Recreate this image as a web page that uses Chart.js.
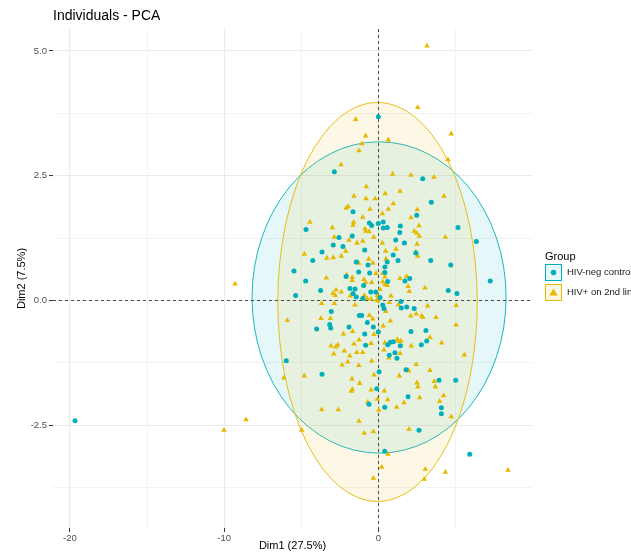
<!DOCTYPE html>
<html><head><meta charset="utf-8">
<script src="https://cdn.jsdelivr.net/npm/chart.js@4.4.0/dist/chart.umd.min.js"></script>
<style>html,body{margin:0;padding:0;background:#fff;}#wrap{position:relative;width:631px;height:556px;}</style>
</head><body><div id="wrap"><canvas id="c" width="631" height="556"></canvas></div>
<script>
const chartTitle = "Individuals - PCA";
const xTitle = "Dim1 (27.5%)";
const yTitle = "Dim2 (7.5%)";
const legendTitle = "Group";
const groups = ["HIV-neg controls", "HIV+ on 2nd line"];
const colors = ["#00AFBB", "#E7B800"];
const fills = ["rgba(0,175,187,0.1)", "rgba(231,184,0,0.1)"];

// HIV-neg controls
const negX = [0.00,-2.85,-1.64,-0.58,-0.43,0.00,-4.69,2.88,3.44,2.49,0.32,1.43,0.58,0.32,5.17,
-2.55,-1.69,-2.92,-2.29,-0.88,-3.65,-4.25,-1.43,-0.67,-5.47,-1.27,-0.56,-2.09,-0.95,-4.71,-3.74,-1.84,-1.51,-1.64,-0.49,-0.17,-1.43,-1.01,-5.36,-3.05,-1.23,-1.08,-0.71,-0.32,-3.15,-3.09,-4.00,-1.90,-0.88,0.00,-0.82,-5.97,
1.39,1.13,1.69,2.44,0.97,0.58,1.28,3.40,4.70,6.36,0.43,0.43,0.61,2.04,1.73,7.26,4.54,5.10,0.11,1.47,0.29,0.37,1.49,1.84,2.33,2.12,3.09,3.14,2.79,0.97,0.78,0.61,1.43,1.08,0.71,1.21,
-3.65,-0.60,-0.10,0.05,
1.80,3.94,5.02,1.93,0.42,4.09,4.09,2.64,0.42,5.93,-19.67];
const negY = [3.68,2.58,1.78,1.55,1.50,1.54,1.42,2.44,1.97,1.71,1.57,1.49,1.46,1.45,1.46,
1.26,1.29,1.11,1.08,1.01,0.97,0.80,0.77,0.71,0.59,0.57,0.55,0.48,0.30,0.39,0.20,0.24,0.23,0.14,0.17,0.17,0.07,0.04,0.10,-0.22,-0.30,-0.30,-0.44,-0.53,-0.48,-0.55,-0.57,-0.53,-0.67,-0.63,-0.90,-1.21,
1.36,1.21,1.15,0.95,0.91,0.77,0.80,0.80,0.71,1.18,0.67,0.56,0.38,0.44,0.39,0.39,0.20,0.14,0.06,-0.02,-0.09,-0.16,-0.15,-0.13,-0.16,-0.62,-0.60,-0.81,-0.89,-0.83,-0.84,-0.89,-0.91,-1.05,-1.10,-1.16,
-1.48,-2.08,-1.77,-1.43,
-1.39,-1.60,-1.60,-1.93,-2.14,-2.15,-2.27,-2.60,-3.02,-3.08,-2.41];

// HIV+ on 2nd line
const posX = [-1.47,-0.82,-1.06,-1.25,-2.42,-0.78,-1.58,-0.80,-0.21,-1.95,-2.09,-0.54,-1.01,-4.43,-1.60,-1.64,-2.98,-0.86,
2.56,4.73,0.65,4.52,0.93,2.12,3.61,0.45,1.41,4.26,0.97,0.65,2.53,0.26,2.12,2.64,3.16,
-2.85,-1.90,-1.01,-1.38,-0.82,-0.60,-0.30,-2.11,-4.80,-3.33,-2.92,-2.40,-1.27,-0.62,-0.36,-3.37,-2.05,-1.69,-1.69,-0.93,-0.82,-0.43,-0.15,-2.74,-2.40,-2.94,-2.79,-1.82,-0.91,-0.73,-0.47,-0.06,-0.08,-0.04,-3.67,-2.85,-1.51,-5.90,-3.72,-3.11,-0.58,-0.36,-2.27,-1.66,-0.28,-1.25,-0.47,-3.07,-2.76,-2.63,-1.58,-1.01,-2.20,-2.89,-1.85,-1.40,-1.98,-0.43,
2.33,2.49,2.66,4.35,0.26,2.51,1.15,0.48,2.43,2.56,0.50,0.29,0.43,1.41,1.84,0.29,0.43,0.58,1.93,2.01,3.03,0.11,0.82,0.71,1.30,3.20,5.06,0.48,2.10,2.46,2.81,2.90,3.74,0.78,0.32,5.04,3.35,4.11,0.43,1.23,1.32,1.47,2.14,0.37,1.41,5.58,0.69,2.46,
-6.12,-4.80,-2.35,-1.27,-1.71,-1.21,-1.69,-1.75,-0.47,-0.28,-0.69,-3.67,-2.59,-1.25,-0.91,-0.32,-4.97,-0.32,
1.97,3.35,1.36,2.51,2.57,3.63,3.70,0.39,4.24,0.61,2.68,1.67,1.19,3.98,4.73,1.99,0.63,0.22,3.05,4.35,2.98,
-9.29,-10.01,-8.58,8.41,-0.06,0.03];
const posY = [3.63,3.30,3.14,3.00,2.72,2.28,2.09,2.04,2.04,1.88,1.85,1.83,1.67,1.57,1.57,1.51,1.46,1.44,
3.87,3.34,3.22,2.82,2.53,2.51,2.47,2.14,2.19,2.09,1.94,1.83,1.82,1.74,1.66,1.50,5.10,
1.27,1.21,1.19,1.15,1.39,1.38,1.27,0.99,0.93,0.85,0.86,0.89,0.75,0.83,0.75,0.45,0.51,0.46,0.40,0.42,0.36,0.36,0.54,0.21,0.17,0.14,0.10,0.09,0.10,0.04,0.03,0.10,0.02,-0.01,-0.06,-0.06,-0.09,-0.40,-0.36,-0.36,-0.30,-0.37,-0.67,-0.62,-0.68,-0.79,-0.86,-0.91,-0.93,-0.89,-0.87,-1.04,-1.01,-1.07,-1.11,-1.04,-1.23,-1.21,
1.39,1.35,1.29,1.27,1.15,1.13,1.03,0.99,0.97,0.89,0.83,0.54,0.47,0.44,0.48,0.37,0.32,0.30,0.28,0.18,0.25,0.22,0.09,-0.04,-0.09,-0.11,-0.10,-0.22,-0.31,-0.27,-0.31,-0.34,-0.34,-0.41,-0.51,-0.49,-0.74,-0.85,-0.85,-0.78,-0.82,-0.81,-0.91,-0.99,-1.06,-1.09,-1.15,-1.28,
-1.55,-1.51,-1.29,-1.30,-1.57,-1.66,-1.78,-1.82,-1.79,-1.49,-2.04,-2.19,-2.19,-2.42,-2.66,-2.63,-2.60,-3.56,
-1.41,-1.40,-1.51,-1.65,-1.73,-1.62,-1.73,-1.81,-1.91,-1.99,-1.95,-2.05,-2.14,-2.02,-2.33,-2.58,-3.08,-3.34,-3.38,-3.44,-3.58,
0.33,-2.60,-2.39,-3.40,-1.98,-2.20];

// concentration ellipses per group: centre and semi-axes (data units)
const ellCx = [0.05, -0.05];
const ellCy = [0.06, -0.03];
const ellRx = [8.24, 6.47];
const ellRy = [3.12, 4.00];

const xTicks = [-20,-15,-10,-5,0,5];
const xLabels = [-20,-10,0];
const yTicks = [-3.75,-2.5,-1.25,0,1.25,2.5,3.75,5];
const yLabels = [-2.5,0,2.5,5];
const xRange = [-21.1, 9.97];
const yRange = [-4.56, 5.44];

const FONT = "'Liberation Sans', Arial, sans-serif";

const extras = {
  id: 'pcaExtras',
  beforeDatasetsDraw(chart) {
    const {ctx, chartArea: a, scales: {x, y}} = chart;
    ctx.save();
    ctx.beginPath(); ctx.rect(a.left, a.top, a.right - a.left, a.bottom - a.top); ctx.clip();
    for (let i = 0; i < groups.length; i++) {
      const cx = x.getPixelForValue(ellCx[i]), cy = y.getPixelForValue(ellCy[i]);
      const rx = Math.abs(x.getPixelForValue(ellCx[i] + ellRx[i]) - cx);
      const ry = Math.abs(y.getPixelForValue(ellCy[i] + ellRy[i]) - cy);
      ctx.beginPath(); ctx.ellipse(cx, cy, rx, ry, 0, 0, Math.PI * 2);
      ctx.fillStyle = fills[i]; ctx.fill();
      ctx.strokeStyle = colors[i]; ctx.lineWidth = 0.9; ctx.stroke();
    }
    ctx.restore();
    ctx.save();
    ctx.setLineDash([3, 3]); ctx.strokeStyle = '#4a4a4a'; ctx.lineWidth = 1;
    const x0 = Math.round(x.getPixelForValue(0)) + 0.5;
    const y0 = Math.round(y.getPixelForValue(0)) + 0.5;
    ctx.beginPath(); ctx.moveTo(x0, a.top); ctx.lineTo(x0, a.bottom); ctx.stroke();
    ctx.beginPath(); ctx.moveTo(a.left, y0); ctx.lineTo(a.right, y0); ctx.stroke();
    ctx.restore();
  },
  afterDraw(chart) {
    const {ctx, chartArea: a} = chart;
    ctx.save();
    ctx.fillStyle = '#000';
    ctx.font = "14px " + FONT;
    ctx.textBaseline = 'middle'; ctx.textAlign = 'left';
    ctx.fillText(chartTitle, a.left, 16);
    // legend
    const lx = 545;
    ctx.font = "11px " + FONT;
    ctx.fillText(legendTitle, lx, 257);
    const keyTop = [264, 284];
    for (let i = 0; i < groups.length; i++) {
      const ky = keyTop[i];
      ctx.fillStyle = '#fff'; ctx.fillRect(lx, ky, 17, 17);
      ctx.fillStyle = fills[i]; ctx.fillRect(lx, ky, 17, 17);
      ctx.strokeStyle = colors[i]; ctx.lineWidth = 1;
      ctx.strokeRect(lx + 0.5, ky + 0.5, 16, 16);
      ctx.fillStyle = colors[i];
      const cx = lx + 8.5, cy = ky + 8.5;
      ctx.beginPath();
      if (i === 0) { ctx.arc(cx, cy, 2.8, 0, Math.PI * 2); }
      else { ctx.moveTo(cx, cy - 4); ctx.lineTo(cx + 4.2, cy + 3); ctx.lineTo(cx - 4.2, cy + 3); ctx.closePath(); }
      ctx.fill();
      ctx.fillStyle = '#1a1a1a';
      ctx.font = "9.5px " + FONT;
      ctx.fillText(groups[i], lx + 22, cy);
    }
    ctx.restore();
  }
};

const isMajor = (vals, v) => vals.some(m => Math.abs(m - v) < 1e-9);

new Chart(document.getElementById('c'), {
  type: 'scatter',
  data: {
    datasets: [
      { label: groups[0], data: negX.map((v, i) => ({x: v, y: negY[i]})), pointStyle: 'circle',
        pointRadius: 2.5, pointHoverRadius: 2.5, backgroundColor: colors[0], borderWidth: 0 },
      { label: groups[1], data: posX.map((v, i) => ({x: v, y: posY[i]})), pointStyle: 'triangle',
        pointRadius: 3.2, pointHoverRadius: 3.2, backgroundColor: colors[1], borderWidth: 0 }
    ]
  },
  options: {
    responsive: false, animation: false, devicePixelRatio: 1,
    layout: { padding: { top: 29, right: 99, left: 0, bottom: 0 } },
    plugins: { legend: { display: false }, tooltip: { enabled: false } },
    scales: {
      x: {
        type: 'linear', min: xRange[0], max: xRange[1],
        afterBuildTicks: s => { s.ticks = xTicks.map(v => ({value: v})); },
        afterFit: s => { s.height = 28; },
        border: { display: false },
        grid: {
          color: '#ebebeb',
          lineWidth: c => (c.tick && isMajor(xLabels, c.tick.value)) ? 1.1 : 0.6,
          drawTicks: true, tickLength: 4, tickWidth: 1,
          tickColor: c => (c.tick && isMajor(xLabels, c.tick.value)) ? '#333' : 'rgba(0,0,0,0)'
        },
        ticks: { autoSkip: false, maxRotation: 0, padding: 1, color: '#4d4d4d', font: { family: FONT, size: 9.5 },
          callback: v => isMajor(xLabels, v) ? String(v) : '' },
        title: { display: true, text: xTitle, color: '#000', font: { family: FONT, size: 11 }, padding: { top: 0, bottom: 3 } }
      },
      y: {
        type: 'linear', min: yRange[0], max: yRange[1],
        afterBuildTicks: s => { s.ticks = yTicks.map(v => ({value: v})); },
        afterFit: s => { s.width = 53; },
        border: { display: false },
        grid: {
          color: '#ebebeb',
          lineWidth: c => (c.tick && isMajor(yLabels, c.tick.value)) ? 1.1 : 0.6,
          drawTicks: true, tickLength: 4, tickWidth: 1,
          tickColor: c => (c.tick && isMajor(yLabels, c.tick.value)) ? '#333' : 'rgba(0,0,0,0)'
        },
        ticks: { autoSkip: false, padding: 2, color: '#4d4d4d', font: { family: FONT, size: 9.5 },
          callback: v => isMajor(yLabels, v) ? Number(v).toFixed(1) : '' },
        title: { display: true, text: yTitle, color: '#000', font: { family: FONT, size: 11 }, padding: { top: 15, bottom: 0 } }
      }
    }
  },
  plugins: [extras]
});
</script></body></html>
